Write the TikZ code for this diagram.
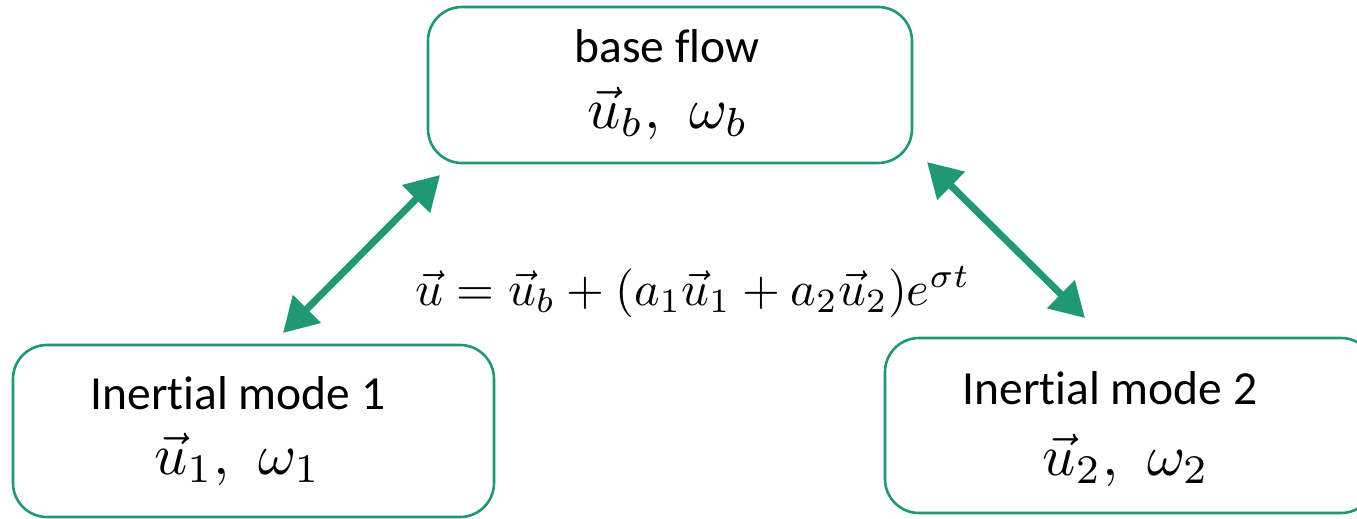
\documentclass[tikz,border=0pt]{standalone}
\usepackage{fix-cm}
\usepackage{amsmath}
\usepackage{fontspec}
\newfontfamily\calib[RawFeature=-liga]{Carlito}
\usepackage{xcolor}
\usepackage{tikz}
\usetikzlibrary{arrows.meta, positioning}

\definecolor{flowgreen}{RGB}{33,152,116}

\begin{document}
\begin{tikzpicture}[
  x=1pt, y=-1pt,
  every node/.style={inner sep=0pt, outer sep=0pt},
  box/.style ={draw=flowgreen, line width=2.6pt, rounded corners=34pt},
  lbl/.style ={anchor=base, font=\calib\fontsize{47.5}{56}\selectfont},
  eq/.style  ={anchor=base, scale=5.8, transform shape},
  link/.style={flowgreen, line width=7pt,
               {Triangle[length=34pt,width=38pt]}-{Triangle[length=34pt,width=38pt]}}
]
\useasboundingbox (0,0) rectangle (1357,519);

%% boxes
\node[box, minimum width=484pt, minimum height=156pt] (base)  at (670,85)    {};
\node[box, minimum width=481pt, minimum height=172pt] (mode1) at (253.5,431) {};
\node[box, minimum width=490pt, minimum height=175pt] (mode2) at (1130,425.5) {};

%% box texts
\node[lbl] (basett)  at (667,63)  {base flow};
\node[eq]  (basemm)  at (668,128) {$\vec{u}_b,\ \omega_b$};
\node[lbl] (mode1tt) at (238,409) {Inertial mode 1};
\node[eq]  (mode1mm) at (237.5,474) {$\vec{u}_1,\ \omega_1$};
\node[lbl] (mode2tt) at (1110,404) {Inertial mode 2};
\node[eq]  (mode2mm) at (1126,475) {$\vec{u}_2,\ \omega_2$};

%% superposition
\node[eq, scale=0.839] (sum) at (693,305)
  {$\vec{u}=\vec{u}_b+(a_1\vec{u}_1+a_2\vec{u}_2)e^{\sigma t}$};

%% coupling arrows
\coordinate (l1) at (283,333);
\coordinate (lb) at (440,175);
\coordinate (rb) at (927,162);
\coordinate (r2) at (1085,318);
\foreach \a/\b in {l1/lb, rb/r2}
  \draw[link] (\a) -- (\b);
\end{tikzpicture}
\end{document}
